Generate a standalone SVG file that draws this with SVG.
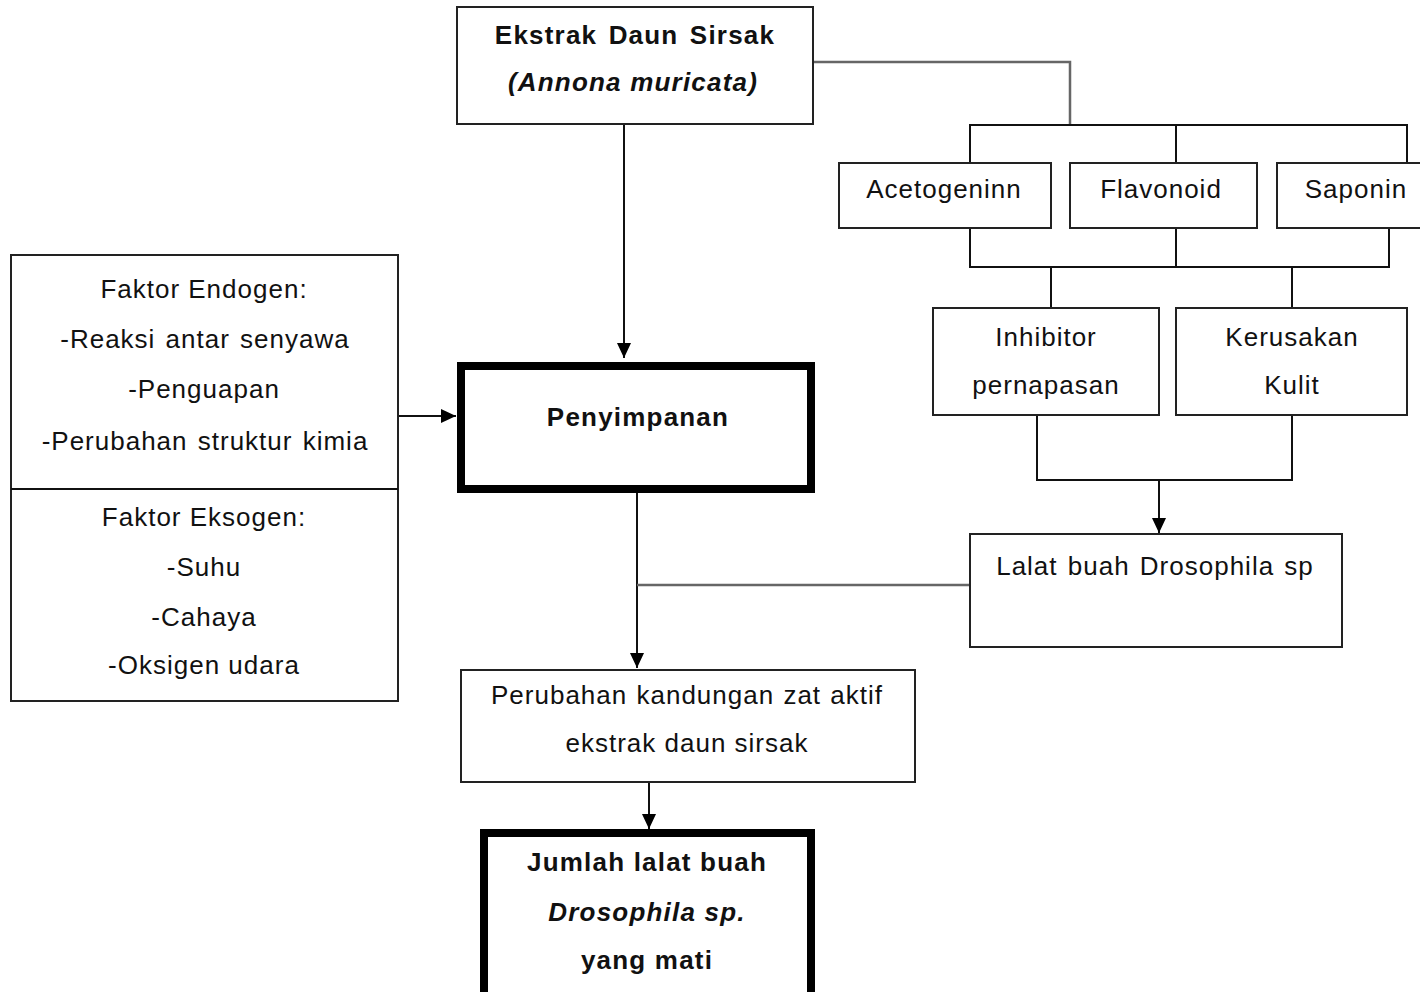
<svg xmlns="http://www.w3.org/2000/svg" width="1420" height="992" viewBox="0 0 1420 992">
<style>
  .box{fill:#fff;stroke:#222;stroke-width:2}
  .thick{fill:#fff;stroke:#000;stroke-width:8}
  .t{font-family:"Liberation Sans",Arial,sans-serif;font-size:26px;fill:#111;text-anchor:middle;letter-spacing:1px}
  .b{font-weight:bold;letter-spacing:1.2px}
  .i{font-style:italic}
  .ln{fill:none;stroke:#111;stroke-width:2}
  .gr{fill:none;stroke:#666;stroke-width:2.5}
</style>
<defs>
  <marker id="arr" markerUnits="userSpaceOnUse" markerWidth="16" markerHeight="16" viewBox="0 0 16 16" refX="15" refY="8" orient="auto">
    <path d="M0,1 L15,8 L0,15 Z" fill="#000"/>
  </marker>
</defs>
<rect width="1420" height="992" fill="#fff"/>
<g id="connectors">
  <path class="gr" d="M813,62 H1070 V125"/>
  <path class="ln" d="M970,163 V125 H1407 V163 M1176,125 V163"/>
  <path class="ln" d="M970,228 V267 H1389 V228 M1176,228 V267 M1051,267 V308 M1292,267 V308"/>
  <path class="ln" d="M1037,415 V480 H1292 V415"/>
  <path class="ln" d="M1159,480 V533" marker-end="url(#arr)"/>
  <path class="ln" d="M624,124 V358" marker-end="url(#arr)"/>
  <path class="ln" d="M398,416 H456" marker-end="url(#arr)"/>
  <path class="ln" d="M637,493 V668" marker-end="url(#arr)"/>
  <path class="gr" d="M637,585 H970"/>
  <path class="ln" d="M649,782 V829" marker-end="url(#arr)"/>
</g>
<g id="ekstrak">
  <rect class="box" x="457" y="7" width="356" height="117"/>
  <text class="t b" x="635" y="44" word-spacing="3">Ekstrak Daun Sirsak</text>
  <text class="t b i" x="633" y="91">(Annona muricata)</text>
</g>
<g id="acetogeninn">
  <rect class="box" x="839" y="163" width="212" height="65"/>
  <text class="t" x="944" y="198">Acetogeninn</text>
</g>
<g id="flavonoid">
  <rect class="box" x="1070" y="163" width="187" height="65"/>
  <text class="t" x="1161" y="198">Flavonoid</text>
</g>
<g id="saponin">
  <rect class="box" x="1277" y="163" width="150" height="65"/>
  <text class="t" x="1356" y="198">Saponin</text>
</g>
<g id="inhibitor">
  <rect class="box" x="933" y="308" width="226" height="107"/>
  <text class="t" x="1046" y="346">Inhibitor</text>
  <text class="t" x="1046" y="394">pernapasan</text>
</g>
<g id="kerusakan">
  <rect class="box" x="1176" y="308" width="231" height="107"/>
  <text class="t" x="1292" y="346">Kerusakan</text>
  <text class="t" x="1292" y="394">Kulit</text>
</g>
<g id="lalat">
  <rect class="box" x="970" y="534" width="372" height="113"/>
  <text class="t" x="1155" y="575" word-spacing="2">Lalat buah Drosophila sp</text>
</g>
<g id="faktor">
  <rect class="box" x="11" y="255" width="387" height="446"/>
  <line class="ln" x1="11" y1="489" x2="398" y2="489"/>
  <text class="t" x="204" y="298">Faktor Endogen:</text>
  <text class="t" x="205" y="348" word-spacing="2">-Reaksi antar senyawa</text>
  <text class="t" x="204" y="398">-Penguapan</text>
  <text class="t" x="205" y="450" word-spacing="2">-Perubahan struktur kimia</text>
  <text class="t" x="204" y="526">Faktor Eksogen:</text>
  <text class="t" x="204" y="576">-Suhu</text>
  <text class="t" x="204" y="626">-Cahaya</text>
  <text class="t" x="204" y="674">-Oksigen udara</text>
</g>
<g id="penyimpanan">
  <rect class="thick" x="461" y="366" width="350" height="123"/>
  <text class="t b" x="638" y="426">Penyimpanan</text>
</g>
<g id="perubahan">
  <rect class="box" x="461" y="670" width="454" height="112"/>
  <text class="t" x="687" y="704" word-spacing="1">Perubahan kandungan zat aktif</text>
  <text class="t" x="687" y="752">ekstrak daun sirsak</text>
</g>
<g id="jumlah">
  <rect class="thick" x="484" y="833" width="327" height="170"/>
  <text class="t b" x="647" y="871">Jumlah lalat buah</text>
  <text class="t b i" x="647" y="921">Drosophila sp.</text>
  <text class="t b" x="647" y="969">yang mati</text>
</g>
</svg>
